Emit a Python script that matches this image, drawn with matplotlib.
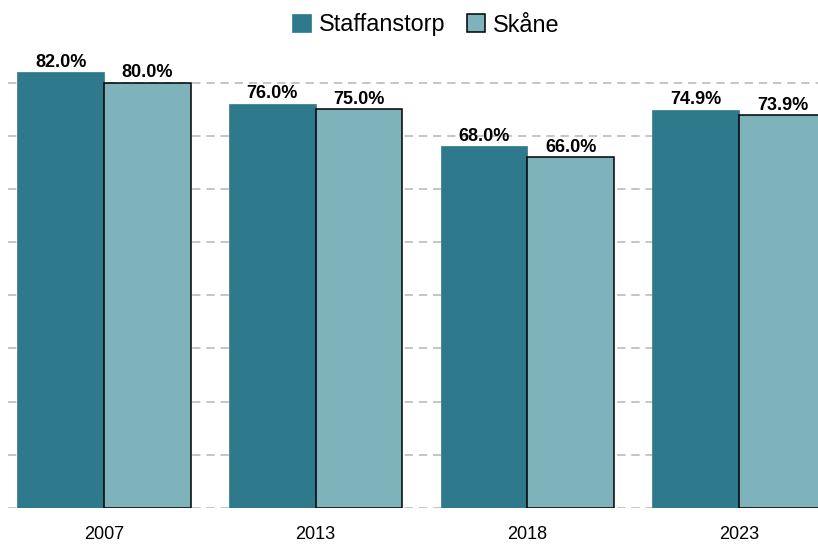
import numpy as np
import matplotlib.pyplot as plt

# data
years = ['2007', '2013', '2018', '2023']
staffanstorp = [82.0, 76.0, 68.0, 74.9]
skane = [80.0, 75.0, 66.0, 73.9]

dark = '#2E7A8C'
light = '#7FB3BC'

plt.rcParams['font.family'] = ['Liberation Sans', 'DejaVu Sans']

fig = plt.figure(figsize=(8.18, 5.44), dpi=100)
ax = fig.add_axes([8 / 818, 36 / 544, 810 / 818, 452 / 544])

x = np.arange(len(years))
w = 0.41
b1 = ax.bar(x - w / 2, staffanstorp, w, color=dark, edgecolor=dark, linewidth=0.5,
            label='Staffanstorp', zorder=2)
b2 = ax.bar(x + w / 2, skane, w, color=light, edgecolor='black', linewidth=1.1,
            label='Skåne', zorder=2)

for bars in (b1, b2):
    ax.bar_label(bars, labels=[f'{v:.1f}%' for v in bars.datavalues], padding=1,
                 fontsize=13, fontweight='bold', color='black')

ax.set_xlim(-0.4535, 3.373)
ax.set_ylim(0, 85)
ax.set_yticks(np.arange(0, 81, 10))
ax.set_yticklabels([])
ax.set_xticks(x)
ax.set_xticklabels(years, fontsize=13)
ax.tick_params(axis='both', length=0)
ax.tick_params(axis='x', pad=13)
ax.grid(axis='y', color='#BBBBBB', linestyle=(0, (5, 3.5)), linewidth=1.2, zorder=0)
ax.set_axisbelow(True)
for s in ax.spines.values():
    s.set_visible(False)

fig.legend(handles=[b1, b2], loc='center', bbox_to_anchor=(426 / 818, 1 - 25 / 544),
           ncol=2, frameon=False, fontsize=16.8, handlelength=0.8, handleheight=0.8,
           handletextpad=0.35, columnspacing=0.9)

fig.savefig('out.png', dpi=100)
